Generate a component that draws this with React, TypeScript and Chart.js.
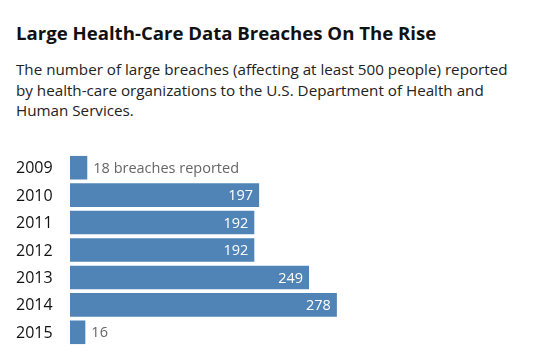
import React, { useEffect, useRef } from "react";
import { Chart, registerables } from "chart.js";

Chart.register(...registerables);

const title = "Large Health-Care Data Breaches On The Rise";
const subtitle =
  "The number of large breaches (affecting at least 500 people) reported by health-care organizations to the U.S. Department of Health and Human Services.";
const years = ["2009", "2010", "2011", "2012", "2013", "2014", "2015"];
const breaches = [18, 197, 192, 192, 249, 278, 16];
const valueLabels = ["18 breaches reported", "197", "192", "192", "249", "278", "16"];

const FONT = "'Open Sans', sans-serif";
const BAR = "#5084b6";

const labelPlugin = {
  id: "valueLabels",
  afterDatasetsDraw(chart: any) {
    const ctx = chart.ctx;
    const meta = chart.getDatasetMeta(0);
    ctx.save();
    ctx.textBaseline = "middle";
    meta.data.forEach((bar: any, i: number) => {
      // year label
      ctx.font = `16px ${FONT}`;
      ctx.fillStyle = "#111111";
      ctx.textAlign = "left";
      ctx.fillText(years[i], 16, bar.y + 1);
      // value label
      ctx.font = `14.5px ${FONT}`;
      const text = valueLabels[i];
      const w = ctx.measureText(text).width;
      if (bar.x - bar.base > w + 14) {
        ctx.fillStyle = "#ffffff";
        ctx.textAlign = "right";
        ctx.fillText(text, bar.x - 6, bar.y + 1);
      } else {
        ctx.fillStyle = "#666666";
        ctx.textAlign = "left";
        ctx.fillText(text, bar.x + 6, bar.y + 1);
      }
    });
    ctx.restore();
  },
};

function BarChart() {
  const ref = useRef<HTMLCanvasElement>(null);
  useEffect(() => {
    if (!ref.current) return;
    const chart = new Chart(ref.current, {
      type: "bar",
      data: {
        labels: years,
        datasets: [
          {
            data: breaches,
            backgroundColor: BAR,
            barPercentage: 0.86,
            categoryPercentage: 1,
          },
        ],
      },
      options: {
        indexAxis: "y",
        animation: false,
        responsive: false,
        maintainAspectRatio: false,
        layout: { padding: { left: 70, right: 197, top: 0, bottom: 0 } },
        plugins: { legend: { display: false }, tooltip: { enabled: false } },
        scales: {
          x: { display: false, min: 0, max: 300 },
          y: { display: false, offset: true },
        },
      },
      plugins: [labelPlugin],
    });
    return () => chart.destroy();
  }, []);
  return (
    <canvas
      ref={ref}
      width={555}
      height={192}
      style={{ position: "absolute", left: 0, top: 154, width: 555, height: 192 }}
    />
  );
}

export default function App() {
  useEffect(() => {
    document.body.style.margin = "0";
  }, []);
  return (
    <div style={{ position: "relative", width: 555, height: 361, background: "#fff", fontFamily: FONT }}>
      <div
        style={{
          position: "absolute",
          left: 16,
          top: 20,
          fontSize: 18.6,
          fontWeight: 700,
          color: "#111",
          whiteSpace: "nowrap",
          lineHeight: "26px",
        }}
      >
        {title}
      </div>
      <div
        style={{
          position: "absolute",
          left: 16,
          top: 59,
          width: 495,
          fontSize: 15.2,
          color: "#222",
          lineHeight: "20.5px",
        }}
      >
        {subtitle}
      </div>
      <BarChart />
    </div>
  );
}
